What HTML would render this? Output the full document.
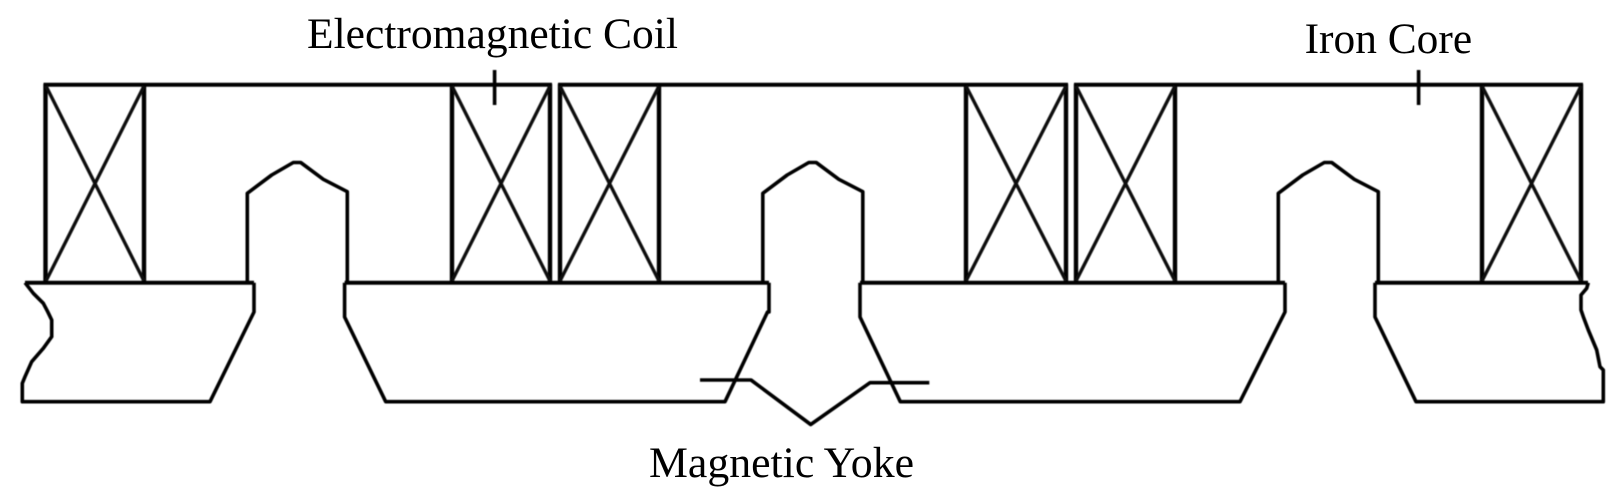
<!DOCTYPE html>
<html lang="en">
<head>
<meta charset="utf-8">
<title>Electromagnet diagram</title>
<style>
html,body{margin:0;padding:0;background:#fff;width:1620px;height:498px;overflow:hidden}
svg{display:block}
text{font-family:"Liberation Serif",serif;font-size:43.6px;fill:#000}
.l{fill:none;stroke:#000;stroke-width:4;stroke-linejoin:miter}
.t{fill:none;stroke:#000;stroke-width:3.6;stroke-linejoin:round}
.b{fill:none;stroke:#000;stroke-width:4.4}
.x{fill:none;stroke:#111;stroke-width:3.4}
</style>
</head>
<body>
<svg width="1620" height="498" viewBox="0 0 1620 498" xmlns="http://www.w3.org/2000/svg">
<defs><filter id="s" filterUnits="userSpaceOnUse" x="0" y="0" width="1620" height="498"><feGaussianBlur stdDeviation="0.45"/></filter></defs>
<rect width="1620" height="498" fill="#fff"/>
<text x="307" y="48" textLength="371" lengthAdjust="spacingAndGlyphs">Electromagnetic Coil</text>
<text x="1304.6" y="53" textLength="167.500" lengthAdjust="spacingAndGlyphs">Iron Core</text>
<text x="649" y="477" textLength="265" lengthAdjust="spacingAndGlyphs">Magnetic Yoke</text>

<g filter="url(#s)">
<!-- top lines -->
<path class="l" d="M43.500 84.700H552M558 84.700H1068M1074 84.700H1583"/>

<!-- coils -->
<g class="b">
<path d="M45.500 84V283M144 84V283"/>
<path d="M452 84V283M550 84V283"/>
<path d="M560 84V283M659 84V283"/>
<path d="M966 84V283M1066 84V283"/>
<path d="M1076 84V283M1175 84V283"/>
<path d="M1482 84V283M1581 84V283"/>
</g>
<g class="x">
<path d="M46 86L144 281M144 86L46 281"/>
<path d="M452 86L550 281M550 86L452 281"/>
<path d="M560 86L659 281M659 86L560 281"/>
<path d="M966 86L1066 281M1066 86L966 281"/>
<path d="M1076 86L1175 281M1175 86L1076 281"/>
<path d="M1482 86L1581 281M1581 86L1482 281"/>
</g>

<!-- poles -->
<path class="t" d="M247.300 283V193.300L271.700 175L293.300 162.500H300.700L323.300 179.300L347.300 191.700V283"/>
<path class="t" d="M762.800 283V193.300L787.200 175L808.800 162.500H816.200L838.800 179.300L862.800 191.700V283"/>
<path class="t" d="M1278.300 283V193.300L1302.700 175L1324.300 162.500H1331.700L1354.300 179.300L1378.300 191.700V283"/>

<!-- yoke top line -->
<path class="l" d="M25 282.700H254M344.600 282.700H769M860 282.700H1285M1375 282.700H1588"/>

<!-- yoke segments -->
<path class="t" d="M25 282.700L33.300 293.300L43.300 303.300L47.700 311.700L51.700 320V336.700L43.300 348.300L31.700 361.700L25 376.700L22.300 383.300V401.700H210L254 312V282.700"/>
<path class="t" d="M344.600 282.700V317L385.700 401.700H725L767.500 312H769V282.700"/>
<path class="t" d="M860 282.700V317L900.300 401.700H1240L1285 312V282.700"/>
<path class="t" d="M1375 282.700V317L1416 401.700H1603.300V370L1600 366.700L1596.700 350L1588.300 330L1583.300 316.700L1581 310V295L1586.700 288.300L1588.300 282.700"/>

<!-- leaders -->
<path class="t" d="M494.600 70V105"/>
<path class="t" d="M1418.600 70V105"/>
<path class="t" d="M700 380H751L810.700 424.500L870 382.700H929.300"/>
</g>
</svg>
</body>
</html>
